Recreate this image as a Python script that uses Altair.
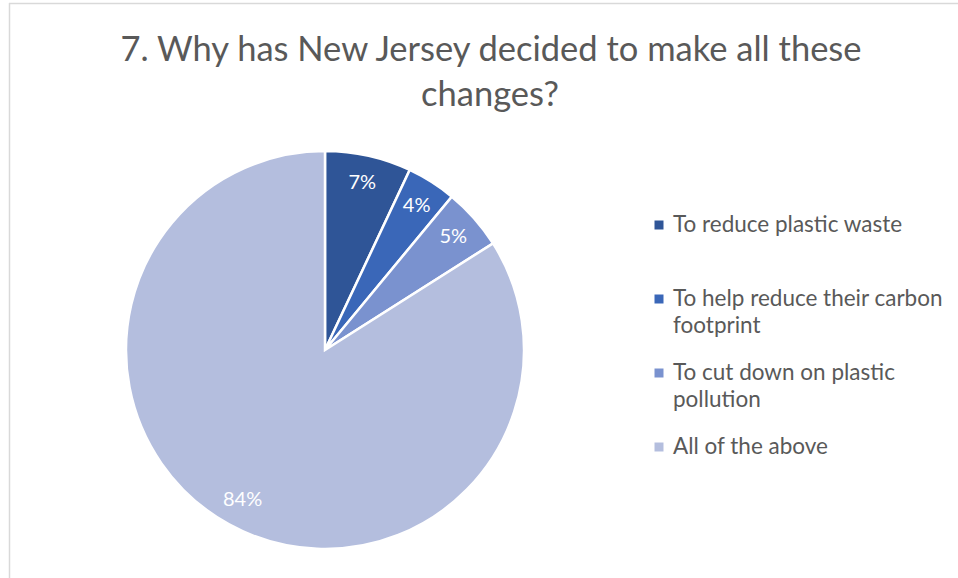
import altair as alt
import pandas as pd

categories = [
    "To reduce plastic waste",
    "To help reduce their carbon footprint",
    "To cut down on plastic pollution",
    "All of the above",
]
legend_lines = [
    ["To reduce plastic waste"],
    ["To help reduce their carbon", "footprint"],
    ["To cut down on plastic", "pollution"],
    ["All of the above"],
]
values = [7, 4, 5, 84]
colors = ["#2F5597", "#3A67B8", "#7A92CF", "#B4BEDE"]
title_lines = ["7. Why has New Jersey decided to make all these", "changes?"]

W, H = 958, 578
FONT = "Lato"
GREY = "#595959"

df = pd.DataFrame({
    "cat": categories,
    "value": values,
    "order": list(range(len(categories))),
    "lines": legend_lines,
    "label": [f"{v}%" for v in values],
})

color = alt.Color("cat:N", sort=categories,
                  scale=alt.Scale(domain=categories, range=colors), legend=None)

cx, cy = 325, 350

base = alt.Chart(df)

pie = base.mark_arc(outerRadius=199, stroke="white", strokeWidth=2.5).encode(
    theta=alt.Theta("value:Q", stack=True),
    order=alt.Order("order:Q"),
    color=color,
    x=alt.value(cx), y=alt.value(cy),
)

pie_labels = base.mark_text(radius=171, fontSize=20, font=FONT, color="white").encode(
    theta=alt.Theta("value:Q", stack=True),
    order=alt.Order("order:Q"),
    text="label:N",
    x=alt.value(cx), y=alt.value(cy),
)

yscale = alt.Scale(domain=categories, range=[225, 447], padding=0)

leg_sq = base.mark_square(size=81, opacity=1).encode(
    x=alt.value(659),
    y=alt.Y("cat:N", sort=categories, scale=yscale, axis=None),
    color=color,
)
leg_txt = base.mark_text(align="left", baseline="top", dy=-11, fontSize=22.5,
                         font=FONT, color=GREY, lineHeight=27).encode(
    x=alt.value(673),
    y=alt.Y("cat:N", sort=categories, scale=yscale, axis=None),
    text="lines",
)

one = pd.DataFrame({"a": [0]})
border_top = alt.Chart(one).mark_rule(color="#D9D9D9", strokeWidth=1.5).encode(
    x=alt.value(9), x2=alt.value(958), y=alt.value(3.5))
border_left = alt.Chart(one).mark_rule(color="#D9D9D9", strokeWidth=1.5).encode(
    x=alt.value(9.5), y=alt.value(3), y2=alt.value(H))

title1 = alt.Chart(one).mark_text(fontSize=34.5, font=FONT, color=GREY, align="center",
                                  baseline="middle", text=title_lines[0]).encode(
    x=alt.value(491), y=alt.value(51))
title2 = alt.Chart(one).mark_text(fontSize=34.5, font=FONT, color=GREY, align="center",
                                  baseline="middle", text=title_lines[1]).encode(
    x=alt.value(490), y=alt.value(96))

chart = alt.layer(border_top, border_left, title1, title2, pie, pie_labels, leg_sq, leg_txt).resolve_scale(
    theta="independent"
).properties(
    width=W, height=H,
    padding=0,
    autosize=alt.AutoSizeParams(type="none"),
).configure(background="white").configure_view(stroke=None)

chart.save("out.html", embed_options={"renderer": "svg", "actions": False})
